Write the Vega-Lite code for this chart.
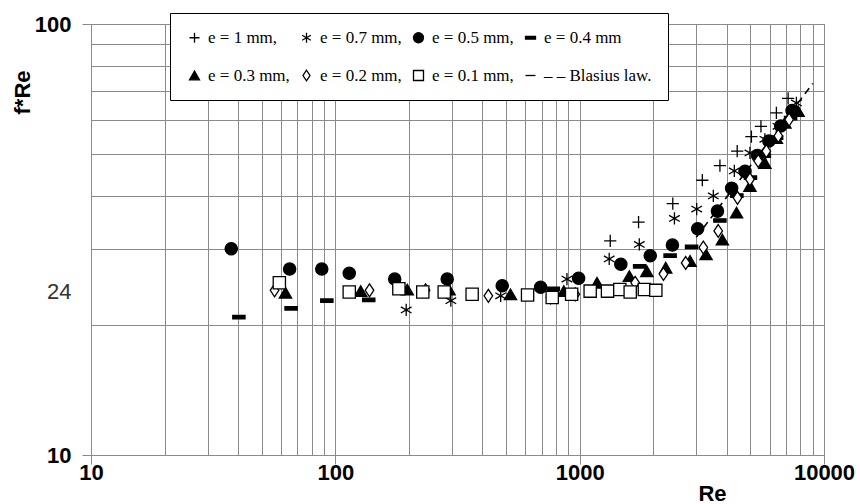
{
  "$schema": "https://vega.github.io/schema/vega-lite/v6.json",
  "width": 733,
  "height": 431,
  "autosize": "none",
  "padding": {"left": 91, "top": 24, "right": 36, "bottom": 49},
  "background": "white",
  "config": {"view": {"stroke": "#8a8a8a", "strokeWidth": 1}, "font": "Liberation Sans"},
  "datasets": {
    "blasius": [
      {"Re": 3000, "fRe": 32.0},
      {"Re": 9000, "fRe": 72.8}
    ],
    "pts": [
      {"Re": 1334, "fRe": 31.4, "e": "e = 1 mm"},
      {"Re": 1742, "fRe": 34.7, "e": "e = 1 mm"},
      {"Re": 2405, "fRe": 38.3, "e": "e = 1 mm"},
      {"Re": 3177, "fRe": 43.4, "e": "e = 1 mm"},
      {"Re": 3750, "fRe": 46.9, "e": "e = 1 mm"},
      {"Re": 4413, "fRe": 50.7, "e": "e = 1 mm"},
      {"Re": 5046, "fRe": 54.8, "e": "e = 1 mm"},
      {"Re": 5520, "fRe": 57.9, "e": "e = 1 mm"},
      {"Re": 6385, "fRe": 62.2, "e": "e = 1 mm"},
      {"Re": 7129, "fRe": 67.2, "e": "e = 1 mm"},

      {"Re": 195, "fRe": 21.7, "e": "e = 0.7 mm"},
      {"Re": 297, "fRe": 22.8, "e": "e = 0.7 mm"},
      {"Re": 475, "fRe": 23.4, "e": "e = 0.7 mm"},
      {"Re": 887, "fRe": 25.6, "e": "e = 0.7 mm"},
      {"Re": 1321, "fRe": 28.5, "e": "e = 0.7 mm"},
      {"Re": 1754, "fRe": 30.8, "e": "e = 0.7 mm"},
      {"Re": 2443, "fRe": 35.4, "e": "e = 0.7 mm"},
      {"Re": 3013, "fRe": 37.2, "e": "e = 0.7 mm"},
      {"Re": 3524, "fRe": 39.9, "e": "e = 0.7 mm"},
      {"Re": 4295, "fRe": 45.6, "e": "e = 0.7 mm"},
      {"Re": 4975, "fRe": 50.2, "e": "e = 0.7 mm"},
      {"Re": 5728, "fRe": 54.0, "e": "e = 0.7 mm"},
      {"Re": 6486, "fRe": 57.9, "e": "e = 0.7 mm"},
      {"Re": 7710, "fRe": 65.6, "e": "e = 0.7 mm"},

      {"Re": 37.5, "fRe": 30.1, "e": "e = 0.5 mm"},
      {"Re": 65, "fRe": 27.0, "e": "e = 0.5 mm"},
      {"Re": 88, "fRe": 27.0, "e": "e = 0.5 mm"},
      {"Re": 114, "fRe": 26.4, "e": "e = 0.5 mm"},
      {"Re": 175, "fRe": 25.6, "e": "e = 0.5 mm"},
      {"Re": 287, "fRe": 25.6, "e": "e = 0.5 mm"},
      {"Re": 482, "fRe": 24.7, "e": "e = 0.5 mm"},
      {"Re": 692, "fRe": 24.5, "e": "e = 0.5 mm"},
      {"Re": 990, "fRe": 25.7, "e": "e = 0.5 mm"},
      {"Re": 1474, "fRe": 27.7, "e": "e = 0.5 mm"},
      {"Re": 1945, "fRe": 29.0, "e": "e = 0.5 mm"},
      {"Re": 2397, "fRe": 30.7, "e": "e = 0.5 mm"},
      {"Re": 3040, "fRe": 33.5, "e": "e = 0.5 mm"},
      {"Re": 3664, "fRe": 36.8, "e": "e = 0.5 mm"},
      {"Re": 4188, "fRe": 41.6, "e": "e = 0.5 mm"},
      {"Re": 4750, "fRe": 45.5, "e": "e = 0.5 mm"},
      {"Re": 5350, "fRe": 49.5, "e": "e = 0.5 mm"},
      {"Re": 5950, "fRe": 53.5, "e": "e = 0.5 mm"},
      {"Re": 6650, "fRe": 58.0, "e": "e = 0.5 mm"},
      {"Re": 7400, "fRe": 63.0, "e": "e = 0.5 mm"},

      {"Re": 40.3, "fRe": 20.9, "e": "e = 0.4 mm"},
      {"Re": 65.9, "fRe": 21.9, "e": "e = 0.4 mm"},
      {"Re": 92.3, "fRe": 22.8, "e": "e = 0.4 mm"},
      {"Re": 137, "fRe": 22.9, "e": "e = 0.4 mm"},
      {"Re": 780, "fRe": 24.3, "e": "e = 0.4 mm"},
      {"Re": 1760, "fRe": 27.4, "e": "e = 0.4 mm"},
      {"Re": 2345, "fRe": 29.0, "e": "e = 0.4 mm"},
      {"Re": 2871, "fRe": 30.4, "e": "e = 0.4 mm"},
      {"Re": 3750, "fRe": 35.0, "e": "e = 0.4 mm"},
      {"Re": 4400, "fRe": 40.0, "e": "e = 0.4 mm"},
      {"Re": 5000, "fRe": 44.0, "e": "e = 0.4 mm"},
      {"Re": 5700, "fRe": 49.5, "e": "e = 0.4 mm"},
      {"Re": 6400, "fRe": 54.5, "e": "e = 0.4 mm"},
      {"Re": 7300, "fRe": 60.5, "e": "e = 0.4 mm"},

      {"Re": 62.5, "fRe": 23.8, "e": "e = 0.3 mm"},
      {"Re": 127, "fRe": 24.0, "e": "e = 0.3 mm"},
      {"Re": 197, "fRe": 24.2, "e": "e = 0.3 mm"},
      {"Re": 292, "fRe": 24.2, "e": "e = 0.3 mm"},
      {"Re": 521, "fRe": 23.6, "e": "e = 0.3 mm"},
      {"Re": 861, "fRe": 24.0, "e": "e = 0.3 mm"},
      {"Re": 1178, "fRe": 25.1, "e": "e = 0.3 mm"},
      {"Re": 1597, "fRe": 26.0, "e": "e = 0.3 mm"},
      {"Re": 1883, "fRe": 26.7, "e": "e = 0.3 mm"},
      {"Re": 2250, "fRe": 27.2, "e": "e = 0.3 mm"},
      {"Re": 2830, "fRe": 28.2, "e": "e = 0.3 mm"},
      {"Re": 3291, "fRe": 29.2, "e": "e = 0.3 mm"},
      {"Re": 3837, "fRe": 31.6, "e": "e = 0.3 mm"},
      {"Re": 4386, "fRe": 36.5, "e": "e = 0.3 mm"},
      {"Re": 4975, "fRe": 42.1, "e": "e = 0.3 mm"},
      {"Re": 5728, "fRe": 47.6, "e": "e = 0.3 mm"},
      {"Re": 6385, "fRe": 54.4, "e": "e = 0.3 mm"},
      {"Re": 6918, "fRe": 59.0, "e": "e = 0.3 mm"},
      {"Re": 7833, "fRe": 62.8, "e": "e = 0.3 mm"},

      {"Re": 56.4, "fRe": 24.1, "e": "e = 0.2 mm"},
      {"Re": 138, "fRe": 24.1, "e": "e = 0.2 mm"},
      {"Re": 234, "fRe": 24.1, "e": "e = 0.2 mm"},
      {"Re": 423, "fRe": 23.4, "e": "e = 0.2 mm"},
      {"Re": 760, "fRe": 23.2, "e": "e = 0.2 mm"},
      {"Re": 959, "fRe": 23.6, "e": "e = 0.2 mm"},
      {"Re": 1687, "fRe": 25.1, "e": "e = 0.2 mm"},
      {"Re": 2203, "fRe": 26.3, "e": "e = 0.2 mm"},
      {"Re": 2716, "fRe": 27.9, "e": "e = 0.2 mm"},
      {"Re": 3207, "fRe": 30.3, "e": "e = 0.2 mm"},
      {"Re": 3690, "fRe": 33.1, "e": "e = 0.2 mm"},
      {"Re": 4426, "fRe": 39.5, "e": "e = 0.2 mm"},
      {"Re": 4975, "fRe": 43.6, "e": "e = 0.2 mm"},
      {"Re": 5380, "fRe": 48.1, "e": "e = 0.2 mm"},
      {"Re": 5808, "fRe": 50.7, "e": "e = 0.2 mm"},
      {"Re": 6500, "fRe": 55.0, "e": "e = 0.2 mm"},
      {"Re": 7200, "fRe": 60.0, "e": "e = 0.2 mm"},

      {"Re": 59, "fRe": 25.1, "e": "e = 0.1 mm"},
      {"Re": 114, "fRe": 23.9, "e": "e = 0.1 mm"},
      {"Re": 182, "fRe": 24.3, "e": "e = 0.1 mm"},
      {"Re": 228, "fRe": 23.9, "e": "e = 0.1 mm"},
      {"Re": 279, "fRe": 23.9, "e": "e = 0.1 mm"},
      {"Re": 363, "fRe": 23.6, "e": "e = 0.1 mm"},
      {"Re": 612, "fRe": 23.5, "e": "e = 0.1 mm"},
      {"Re": 772, "fRe": 23.2, "e": "e = 0.1 mm"},
      {"Re": 927, "fRe": 23.6, "e": "e = 0.1 mm"},
      {"Re": 1104, "fRe": 24.0, "e": "e = 0.1 mm"},
      {"Re": 1300, "fRe": 24.0, "e": "e = 0.1 mm"},
      {"Re": 1460, "fRe": 24.2, "e": "e = 0.1 mm"},
      {"Re": 1610, "fRe": 23.9, "e": "e = 0.1 mm"},
      {"Re": 1840, "fRe": 24.2, "e": "e = 0.1 mm"},
      {"Re": 2050, "fRe": 24.1, "e": "e = 0.1 mm"}
    ]
  },
  "encoding": {
    "x": {
      "field": "Re",
      "type": "quantitative",
      "scale": {"type": "log", "domain": [10, 10000], "nice": false},
      "axis": {
        "title": "Re",
        "values": [10, 20, 30, 40, 50, 60, 70, 80, 90, 100, 200, 300, 400, 500, 600, 700, 800, 900, 1000, 2000, 3000, 4000, 5000, 6000, 7000, 8000, 9000, 10000],
        "format": "d",
        "labelExpr": "(datum.value==10||datum.value==100||datum.value==1000||datum.value==10000) ? datum.label : ''",
        "labelFlush": false,
        "labelOverlap": false,
        "labelFont": "Liberation Sans",
        "labelFontWeight": "bold",
        "labelFontSize": 22,
        "labelColor": "black",
        "labelPadding": -2,
        "grid": true,
        "gridColor": "#8a8a8a",
        "gridWidth": 1,
        "domainColor": "#8a8a8a",
        "tickColor": "#8a8a8a",
        "tickSize": 9,
        "tickOpacity": {"condition": {"test": "datum.value==10||datum.value==100||datum.value==1000||datum.value==10000", "value": 1}, "value": 0},
        "titleFont": "Liberation Sans",
        "titleFontSize": 22,
        "titleFontWeight": "bold",
        "titleColor": "black",
        "titleX": 621,
        "titleY": 38,
        "titleAlign": "center",
        "titleBaseline": "middle"
      }
    },
    "y": {
      "field": "fRe",
      "type": "quantitative",
      "scale": {"type": "log", "domain": [10, 100], "nice": false},
      "axis": {
        "title": "f*Re",
        "values": [10, 20, 24, 30, 40, 50, 60, 70, 80, 90, 100],
        "format": "d",
        "labelExpr": "(datum.value==10||datum.value==24||datum.value==100) ? datum.label : ''",
        "labelFont": "Liberation Sans",
        "labelFontSize": 22,
        "labelFontWeight": {"condition": {"test": "datum.value==24", "value": "normal"}, "value": "bold"},
        "labelColor": {"condition": {"test": "datum.value==24", "value": "#333333"}, "value": "black"},
        "labelPadding": 11,
        "labelOverlap": false,
        "grid": true,
        "gridColor": "#8a8a8a",
        "gridWidth": 1,
        "gridOpacity": {"condition": {"test": "datum.value==24", "value": 0}, "value": 1},
        "domainColor": "#8a8a8a",
        "tickColor": "#8a8a8a",
        "tickSize": 9,
        "tickOpacity": {"condition": {"test": "datum.value==10||datum.value==100", "value": 1}, "value": 0},
        "titleFont": "Liberation Sans",
        "titleFontSize": 22,
        "titleFontWeight": "bold",
        "titleColor": "black",
        "titleAngle": -90,
        "titleX": -69,
        "titleY": 68,
        "titleAlign": "center",
        "titleBaseline": "middle"
      }
    }
  },
  "layer": [
    {
      "data": {"name": "blasius"},
      "mark": {"type": "line", "color": "black", "strokeDash": [7, 5], "strokeWidth": 1.6},
      "encoding": {}
    },
    {
      "data": {"name": "pts"},
      "mark": {"type": "point", "filled": true, "strokeWidth": 1.3, "size": 150, "opacity": 1},
      "encoding": {
        "shape": {
          "field": "e",
          "type": "nominal",
          "scale": {
            "domain": ["e = 1 mm", "e = 0.7 mm", "e = 0.5 mm", "e = 0.4 mm", "e = 0.3 mm", "e = 0.2 mm", "e = 0.1 mm", "Blasius law"],
            "range": ["M-1,0H1M0,-1V1", "M0,-1V1M-0.87,-0.5L0.87,0.5M-0.87,0.5L0.87,-0.5", "circle", "M-1,-0.28H1V0.28H-1Z", "triangle-up", "M0,-1.05L0.7,0L0,1.05L-0.7,0Z", "square", "M-1,0H1"]
          },
          "legend": {
            "orient": "none",
            "legendX": 79,
            "legendY": -11,
            "direction": "horizontal",
            "columns": 4,
            "gridAlign": "each",
            "title": null,
            "fillColor": "white",
            "strokeColor": "black",
            "padding": 16,
            "columnPadding": 8,
            "rowPadding": 20,
            "labelOffset": 5,
            "labelFont": "Liberation Serif",
            "labelFontSize": 17,
            "labelColor": "black",
            "labelLimit": 300,
            "symbolSize": 100,
            "symbolStrokeColor": "black",
            "symbolStrokeWidth": 1.3,
            "labelExpr": "datum.label == 'e = 0.4 mm' ? datum.label : (datum.label == 'Blasius law' ? '\u2013 \u2013 Blasius law.' : datum.label + ',')",
            "encode": {
              "legend": {"update": {"strokeWidth": {"value": 2}}},
              "symbols": {"update": {"stroke": {"value": "black"}, "strokeWidth": {"value": 1.3}}}
            }
          }
        },
        "fill": {
          "field": "e",
          "type": "nominal",
          "scale": {
            "domain": ["e = 1 mm", "e = 0.7 mm", "e = 0.5 mm", "e = 0.4 mm", "e = 0.3 mm", "e = 0.2 mm", "e = 0.1 mm", "Blasius law"],
            "range": ["transparent", "transparent", "black", "black", "black", "white", "white", "transparent"]
          }
        },
        "stroke": {
          "field": "e",
          "type": "nominal",
          "scale": {
            "domain": ["e = 1 mm", "e = 0.7 mm", "e = 0.5 mm", "e = 0.4 mm", "e = 0.3 mm", "e = 0.2 mm", "e = 0.1 mm", "Blasius law"],
            "range": ["black", "black", "black", "black", "black", "black", "black", "black"]
          }
        }
      }
    }
  ]
}
